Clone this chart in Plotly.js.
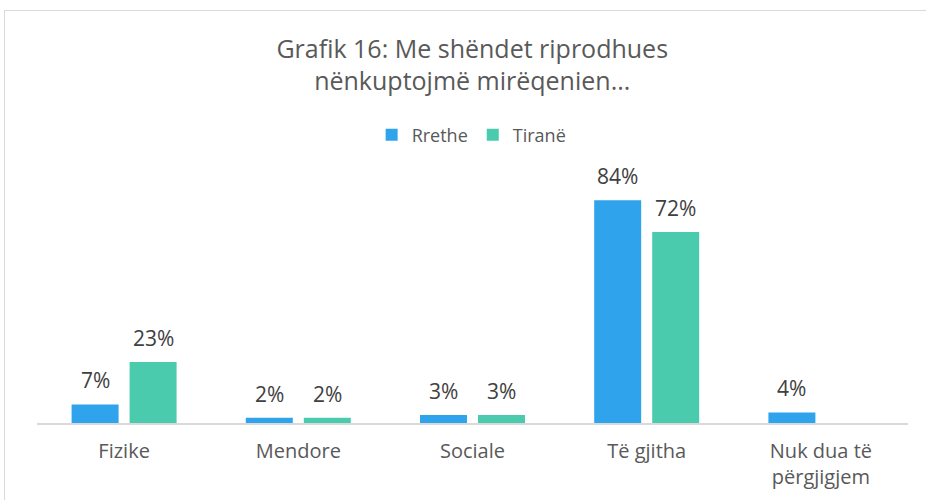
<!DOCTYPE html>
<html>
<head>
<meta charset="utf-8">
<script src="https://cdn.plot.ly/plotly-3.0.1.min.js"></script>
<style>
  html, body { margin: 0; padding: 0; background: #fff; overflow: hidden; }
  #wrap { position: relative; width: 926px; height: 500px; overflow: hidden; }
  #chart { width: 926px; height: 500px; }
  #frame { position: absolute; left: 4px; top: 10px; width: 1000px; height: 600px;
           border: 1px solid #d9d9d9; pointer-events: none; box-sizing: border-box; }
</style>
</head>
<body>
<div id="wrap">
  <div id="chart"></div>
  <div id="frame"></div>
</div>
<script>
const categories = ["Fizike", "Mendore", "Sociale", "Të gjitha", "Nuk dua të<br>përgjigjem"];
const rrethe = [7, 2, 3, 84, 4];
const tirane = [23, 2, 3, 72, null];
const seriesNames = ["Rrethe", "Tiranë"];
const colors = ["#2fa3ec", "#4bcbae"];

const FONT = "'Open Sans', Lato, sans-serif";

const traces = [rrethe, tirane].map((vals, i) => ({
  type: "bar",
  name: seriesNames[i],
  x: categories,
  y: vals,
  marker: { color: colors[i] },
  hoverinfo: "none"
}));

const annotations = [];
[rrethe, tirane].forEach((vals, i) => {
  vals.forEach((v, j) => {
    if (v === null) return;
    annotations.push({
      x: categories[j], y: v, xref: "x", yref: "y",
      xshift: i === 0 ? -29 : 29, yshift: 8,
      yanchor: "bottom", xanchor: "center",
      text: v + "%", showarrow: false,
      font: { family: FONT, size: 21, color: "#404040" }
    });
  });
});

const layout = {
  width: 926, height: 500,
  margin: { l: 37, r: 18, t: 171, b: 77, pad: 0 },
  paper_bgcolor: "rgba(0,0,0,0)",
  plot_bgcolor: "rgba(0,0,0,0)",
  barmode: "group",
  bargap: 0.334,
  bargroupgap: 0.19,
  title: {
    text: "Grafik 16: Me shëndet riprodhues<br>nënkuptojmë mirëqenien...",
    font: { family: FONT, size: 25, color: "#595959" },
    x: 0.51, xanchor: "center", y: 0.885, yanchor: "top"
  },
  showlegend: true,
  legend: {
    orientation: "h", x: 0.499, xanchor: "center", y: 1.143, yanchor: "middle",
    font: { family: FONT, size: 18, color: "#595959" },
    itemwidth: 30, traceorder: "normal"
  },
  xaxis: {
    type: "category",
    showgrid: false, zeroline: false,
    showline: true, linecolor: "#d9d9d9", linewidth: 2,
    ticks: "", ticklen: 0,
    ticklabelstandoff: 9,
    tickfont: { family: FONT, size: 20, color: "#595959" },
    fixedrange: true
  },
  yaxis: {
    range: [0, 95],
    showgrid: false, zeroline: false, showline: false,
    showticklabels: false, ticks: "",
    fixedrange: true
  },
  annotations: annotations
};

Plotly.newPlot("chart", traces, layout, { displayModeBar: false, staticPlot: true });
</script>
</body>
</html>
